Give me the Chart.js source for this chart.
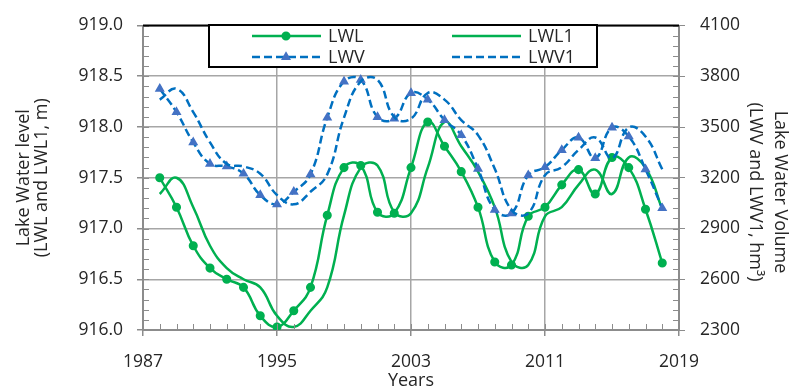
<!DOCTYPE html>
<html>
<head>
<meta charset="utf-8">
<script src="https://cdn.jsdelivr.net/npm/chart.js@4.4.1/dist/chart.umd.min.js"></script>
<style>
html, body { margin: 0; padding: 0; background: #fff; }
#wrap { width: 791px; height: 392px; }
</style>
</head>
<body>
<div id="wrap"><canvas id="lakeChart" width="791" height="392"></canvas></div>
<script>
// Yıllar ve seriler
const years = [1988, 1989, 1990, 1991, 1992, 1993, 1994, 1995, 1996, 1997, 1998,
               1999, 2000, 2001, 2002, 2003, 2004, 2005, 2006, 2007, 2008, 2009,
               2010, 2011, 2012, 2013, 2014, 2015, 2016, 2017, 2018];

const lwl = [917.50, 917.21, 916.83, 916.61, 916.50, 916.42, 916.14, 916.03, 916.19, 916.42, 917.13,
             917.60, 917.62, 917.16, 917.15, 917.60, 918.05, 917.81, 917.56, 917.21, 916.67, 916.64,
             917.12, 917.21, 917.43, 917.58, 917.34, 917.70, 917.60, 917.19, 916.66];

const lwl1 = [917.34, 917.50, 917.21, 916.83, 916.61, 916.50, 916.42, 916.14, 916.03, 916.19, 916.42,
              917.13, 917.60, 917.62, 917.16, 917.15, 917.60, 918.05, 917.81, 917.56, 917.21, 916.67,
              916.64, 917.12, 917.21, 917.43, 917.58, 917.34, 917.70, 917.60, 917.19];

const lwv = [3726, 3588, 3409, 3282, 3267, 3224, 3098, 3043, 3117, 3220, 3555,
             3769, 3779, 3559, 3549, 3701, 3662, 3541, 3452, 3253, 3010, 2990,
             3215, 3263, 3364, 3438, 3316, 3497, 3444, 3250, 3020];

const lwv1 = [3662, 3726, 3588, 3409, 3282, 3267, 3224, 3098, 3043, 3117, 3220,
              3555, 3769, 3779, 3559, 3549, 3701, 3662, 3541, 3452, 3253, 3010,
              2990, 3215, 3263, 3364, 3438, 3316, 3497, 3444, 3250];

const xTicks = [1987, 1995, 2003, 2011, 2019];
const levelTicks = [916.0, 916.5, 917.0, 917.5, 918.0, 918.5, 919.0];
const volumeTicks = [2300, 2600, 2900, 3200, 3500, 3800, 4100];

const GREEN = '#00b050';
const BLUE = '#0070c0';
const TRI = '#4472c4';
const GRID = '#a6a6a6';
const AXIS = '#8c8c8c';
const TEXT = '#262626';
const FONT = '"Open Sans", "DejaVu Sans", sans-serif';

const toPoints = vals => vals.map((v, i) => ({ x: years[i], y: v }));

// küçük tik çizgileri, üst kenar ve sağ eksen başlığı
const extras = {
    id: 'extras',
    afterDraw(chart) {
        const { ctx, chartArea: a, scales } = chart;
        ctx.save();
        ctx.strokeStyle = AXIS;
        ctx.lineWidth = 1;
        ctx.beginPath();
        for (let i = 0; i <= 30; i++) {
            const yl = Math.round(scales.y.getPixelForValue(levelTicks[0] + i * 0.1)) + 0.5;
            ctx.moveTo(a.left, yl); ctx.lineTo(a.left + 6, yl);
            const yr = Math.round(scales.y1.getPixelForValue(volumeTicks[0] + i * 60)) + 0.5;
            ctx.moveTo(a.right - 6, yr); ctx.lineTo(a.right, yr);
        }
        for (let yr = xTicks[0] + 1; yr < xTicks[xTicks.length - 1]; yr++) {
            const x = Math.round(scales.x.getPixelForValue(yr)) + 0.5;
            ctx.moveTo(x, a.bottom - 6); ctx.lineTo(x, a.bottom);
        }
        ctx.stroke();

        // üst kenar siyah
        ctx.strokeStyle = '#000';
        ctx.lineWidth = 2;
        ctx.beginPath();
        ctx.moveTo(a.left, a.top); ctx.lineTo(a.right, a.top);
        ctx.stroke();

        // sağ eksen başlığı
        ctx.fillStyle = TEXT;
        ctx.font = '18px ' + FONT;
        ctx.textAlign = 'center';
        ctx.textBaseline = 'middle';
        ctx.translate(780, 192);
        ctx.rotate(Math.PI / 2);
        ctx.fillText('Lake Water Volume', 0, 0);
        ctx.fillText('(LWV and LWV1, hm\u00B3)', 0, 25);
        ctx.restore();
    }
};

// lejant kutusu
const boxLegend = {
    id: 'boxLegend',
    afterDraw(chart) {
        const ctx = chart.ctx;
        const box = { l: 209, t: 25, r: 597, b: 67 };
        ctx.save();
        ctx.fillStyle = '#fff';
        ctx.fillRect(box.l, box.t, box.r - box.l, box.b - box.t);
        ctx.strokeStyle = '#000';
        ctx.lineWidth = 2;
        ctx.strokeRect(box.l, box.t, box.r - box.l, box.b - box.t);

        const items = [
            { ds: 0, x: 252, y: 36 },
            { ds: 1, x: 452, y: 36 },
            { ds: 2, x: 252, y: 57 },
            { ds: 3, x: 452, y: 57 }
        ];
        items.forEach(it => {
            const d = chart.data.datasets[it.ds];
            ctx.strokeStyle = d.borderColor;
            ctx.lineWidth = d.borderWidth;
            ctx.setLineDash(d.borderDash || []);
            ctx.beginPath();
            ctx.moveTo(it.x, it.y); ctx.lineTo(it.x + 69, it.y);
            ctx.stroke();
            ctx.setLineDash([]);
            if (d.pointRadius > 0) {
                ctx.fillStyle = d.pointBackgroundColor;
                ctx.strokeStyle = d.pointBorderColor;
                Chart.helpers.drawPoint(ctx, {
                    pointStyle: d.pointStyle, radius: d.pointRadius, borderWidth: 1, rotation: 0
                }, it.x + 34, it.y);
            }
            ctx.fillStyle = TEXT;
            ctx.font = '18px ' + FONT;
            ctx.textAlign = 'left';
            ctx.textBaseline = 'middle';
            ctx.fillText(d.label, it.x + 76, it.y + 1);
        });
        ctx.restore();
    }
};

const ctx = document.getElementById('lakeChart').getContext('2d');
const myChart = new Chart(ctx, {
    type: 'line',
    data: {
        datasets: [
            {
                label: 'LWL', data: toPoints(lwl), yAxisID: 'y', order: 4,
                borderColor: GREEN, borderWidth: 2.5, tension: 0.45,
                pointStyle: 'circle', pointRadius: 3.3,
                pointBackgroundColor: GREEN, pointBorderColor: GREEN
            },
            {
                label: 'LWL1', data: toPoints(lwl1), yAxisID: 'y', order: 3,
                borderColor: GREEN, borderWidth: 2.5, tension: 0.45, pointRadius: 0
            },
            {
                label: 'LWV', data: toPoints(lwv), yAxisID: 'y1', order: 2,
                borderColor: BLUE, borderWidth: 2.5, borderDash: [8, 4], tension: 0.45,
                pointStyle: 'triangle', pointRadius: 3.3,
                pointBackgroundColor: TRI, pointBorderColor: TRI
            },
            {
                label: 'LWV1', data: toPoints(lwv1), yAxisID: 'y1', order: 1,
                borderColor: BLUE, borderWidth: 2.5, borderDash: [8, 4], tension: 0.45, pointRadius: 0
            }
        ]
    },
    options: {
        responsive: false,
        animation: false,
        layout: { padding: { top: 22, left: 0, right: 0, bottom: 0 } },
        plugins: {
            legend: { display: false },
            tooltip: { enabled: false }
        },
        scales: {
            x: {
                type: 'linear',
                min: xTicks[0],
                max: xTicks[xTicks.length - 1],
                afterFit: s => { s.height = 62; },
                afterBuildTicks: s => { s.ticks = xTicks.map(v => ({ value: v })); },
                ticks: {
                    padding: 16, color: TEXT, font: { family: FONT, size: 17.5 },
                    maxRotation: 0, autoSkip: false, callback: v => String(v)
                },
                grid: { color: GRID, lineWidth: 1.5, tickLength: 6, tickColor: AXIS },
                border: { color: AXIS, width: 2 },
                title: {
                    display: true, text: 'Years', color: TEXT,
                    font: { family: FONT, size: 18 }, padding: { top: 0, bottom: 0 }
                }
            },
            y: {
                position: 'left',
                min: levelTicks[0],
                max: levelTicks[levelTicks.length - 1],
                afterFit: s => { s.width = 143; },
                afterBuildTicks: s => { s.ticks = levelTicks.map(v => ({ value: v })); },
                ticks: {
                    padding: 14, color: TEXT, font: { family: FONT, size: 17.5 },
                    callback: v => v.toFixed(1)
                },
                grid: { color: GRID, lineWidth: 1.5, tickLength: 6, tickColor: AXIS },
                border: { color: AXIS, width: 2 },
                title: {
                    display: true, text: ['Lake Water level', '(LWL and LWL1, m)'], color: TEXT,
                    font: { family: FONT, size: 18, lineHeight: 1.0 }, padding: { top: 15, bottom: 0 }
                }
            },
            y1: {
                position: 'right',
                min: volumeTicks[0],
                max: volumeTicks[volumeTicks.length - 1],
                afterFit: s => { s.width = 112; },
                afterBuildTicks: s => { s.ticks = volumeTicks.map(v => ({ value: v })); },
                ticks: {
                    padding: 15, color: TEXT, font: { family: FONT, size: 17.5 },
                    callback: v => String(v)
                },
                grid: { drawOnChartArea: false, tickLength: 6, tickColor: AXIS },
                border: { color: AXIS, width: 2 }
            }
        }
    },
    plugins: [extras, boxLegend]
});
</script>
</body>
</html>
